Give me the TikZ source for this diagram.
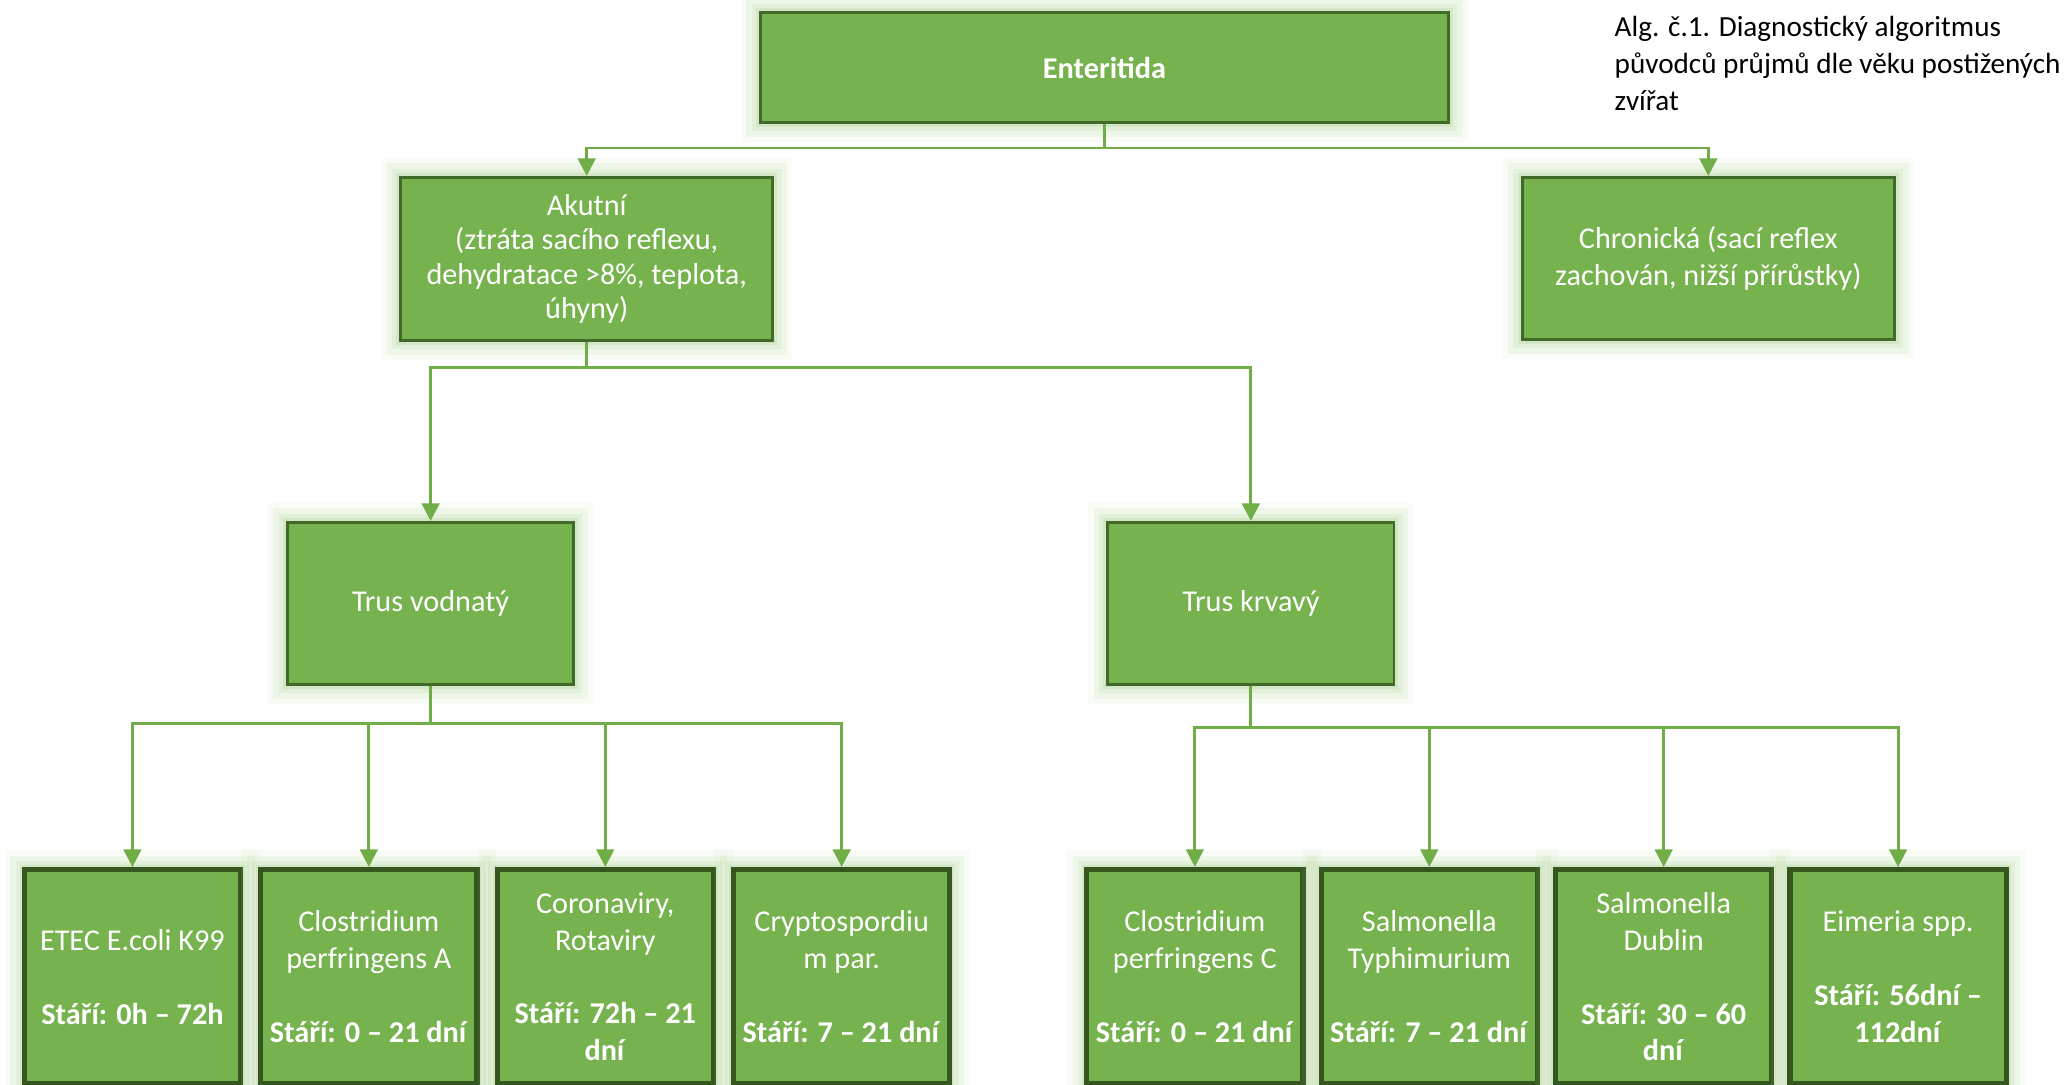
\documentclass[tikz,border=0pt]{standalone}
\usepackage{fontspec}
\setmainfont{Carlito}
\usepackage{tikz}
\usetikzlibrary{positioning,arrows.meta}
\definecolor{boxfill}{HTML}{76B24D}
\definecolor{boxline}{HTML}{41692A}
\definecolor{leafline}{HTML}{36561F}
\definecolor{connline}{HTML}{70AD47}
\definecolor{glowgreen}{HTML}{A8D08D}

\begin{document}
\begin{tikzpicture}[x=0.01cm, y=-0.01cm, node distance=0.52cm,
  box/.style={draw=boxline, line width=0.8pt, fill=boxfill, text=white, align=center, inner sep=2pt,
    font=\fontsize{8.6}{10.5}\selectfont,
    preaction={draw=glowgreen, line width=11pt, opacity=0.08},
    preaction={draw=glowgreen, line width=8pt, opacity=0.12},
    preaction={draw=glowgreen, line width=5pt, opacity=0.18},
    preaction={draw=glowgreen, line width=2.5pt, opacity=0.25}},
  leaf/.style={box, draw=leafline, line width=1.5pt, minimum width=2.16cm, minimum height=2.14cm},
  conn/.style={draw=connline, line width=0.8pt},
  arr/.style={conn, -{Triangle[width=5pt,length=5pt]}}
]
\useasboundingbox (0,0) rectangle (2071,1085);

% Root node (Enteritida, fixed position)
\node[box, minimum width=6.88cm, minimum height=1.10cm, font=\bfseries\fontsize{8.6}{10.5}\selectfont] (ent) at (1104.5,67.5) {Enteritida};

% Acute form (left, shifted left)
\node[box, minimum width=3.72cm, minimum height=1.63cm, font=\fontsize{8.6}{9.7}\selectfont, below=of ent, xshift=-5.175cm] (akut) {Akutní\\(ztráta sacího reflexu,\\dehydratace >8\%, teplota,\\úhyny)};

% Chronic form (right, shifted right)
\node[box, minimum width=3.72cm, minimum height=1.62cm, below=of ent, xshift=6.035cm] (chron) {Chronická (sací reflex\\zachován, nižší přírůstky)};

% Stool types below the acute form
\node[box, minimum width=2.86cm, minimum height=1.62cm, below=1.79cm of akut, xshift=-1.56cm] (vod) {Trus vodnatý};
\node[box, minimum width=2.86cm, minimum height=1.62cm, right=5.31cm of vod] (krv) {Trus krvavý};

% Watery stool pathogens
\node[leaf, below=1.81cm of vod, xshift=-2.98cm] (etec) {ETEC E.coli K99\\[10.5pt]\textbf{Stáří: 0h – 72h}};
\node[leaf, right=0.15cm of etec] (clA) {Clostridium\\perfringens A\\[10.5pt]\textbf{Stáří: 0 – 21 dní}};
\node[leaf, right=0.15cm of clA] (rota) {Coronaviry,\\Rotaviry\\[10.5pt]\textbf{Stáří: 72h – 21}\\\textbf{dní}};
\node[leaf, right=0.15cm of rota] (crypto) {Cryptospordiu\\m par.\\[10.5pt]\textbf{Stáří: 7 – 21 dní}};

% Bloody stool pathogens
\node[leaf, below=1.81cm of krv, xshift=-0.56cm] (clC) {Clostridium\\perfringens C\\[10.5pt]\textbf{Stáří: 0 – 21 dní}};
\node[leaf, right=0.13cm of clC] (typh) {Salmonella\\Typhimurium\\[10.5pt]\textbf{Stáří: 7 – 21 dní}};
\node[leaf, right=0.13cm of typh] (dub) {Salmonella\\Dublin\\[10.5pt]\textbf{Stáří: 30 – 60}\\\textbf{dní}};
\node[leaf, right=0.13cm of dub] (eim) {Eimeria spp.\\[10.5pt]\textbf{Stáří: 56dní –}\\\textbf{112dní}};

% Caption (top right)
\node[anchor=north west, inner sep=0pt, align=left, font=\fontsize{8.3}{10.5}\selectfont] (cap) at (1614,16) {Alg. č.1. Diagnostický algoritmus\\původců průjmů dle věku postižených\\zvířat};

% Connectors
\draw[arr] (ent.south) -- ++(0,24) -| (akut.north);
\draw[arr] (ent.south) -- ++(0,24) -| (chron.north);
\draw[arr] (akut.south) -- ++(0,26) -| (vod.north);
\draw[arr] (akut.south) -- ++(0,26) -| (krv.north);
\foreach \n in {etec,clA,rota,crypto}
  \draw[arr] (vod.south) -- ++(0,38) -| (\n.north);
\foreach \n in {clC,typh,dub,eim}
  \draw[arr] (krv.south) -- ++(0,42) -| (\n.north);

\end{tikzpicture}
\end{document}
